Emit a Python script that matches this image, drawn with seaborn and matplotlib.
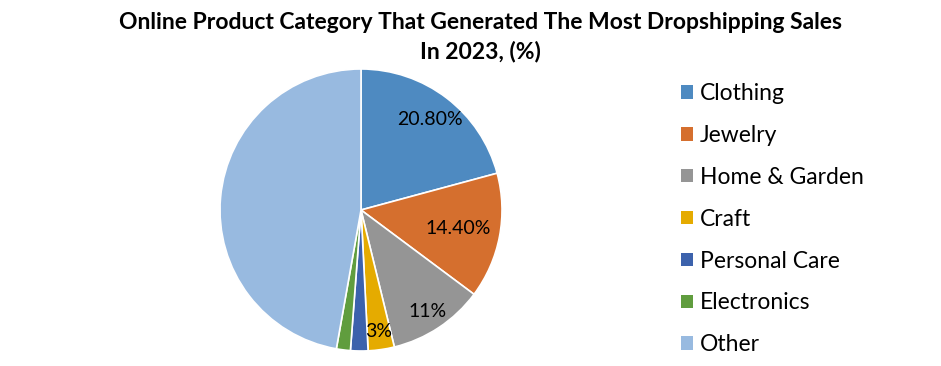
import numpy as np
import matplotlib
matplotlib.use("Agg")
import matplotlib.pyplot as plt
import seaborn as sns
from matplotlib.patches import Patch

# --- Data ---
categories = ['Clothing', 'Jewelry', 'Home & Garden', 'Craft', 'Personal Care', 'Electronics', 'Other']
shares = [20.8, 14.4, 11.0, 3.0, 2.0, 1.6, 47.2]
labels = ['20.80%', '14.40%', '11%', '3%', '', '', '']
colors = ['#4E8AC1', '#D56F2E', '#959595', '#E5AB00', '#3C62AC', '#609D3E', '#98BAE0']
label_dist = [0.81, 0.70, 0.86, 0.87, 0, 0, 0]

sns.set_theme(style="white")
plt.rcParams['font.family'] = ['Lato', 'DejaVu Sans']

fig = plt.figure(figsize=(9.41, 3.66), dpi=100)
ax = fig.add_axes([0.2338, 0.041, 0.2997, 0.7705])

wedges, _ = ax.pie(shares, colors=colors, startangle=90, counterclock=False,
                   wedgeprops=dict(edgecolor='white', linewidth=1.2))
ax.set_xlim(-1, 1)
ax.set_ylim(-1, 1)
ax.set_aspect('equal')

# percentage labels inside the slices
for w, lab, d in zip(wedges, labels, label_dist):
    if not lab:
        continue
    ang = np.deg2rad((w.theta1 + w.theta2) / 2)
    ax.text(d * np.cos(ang), d * np.sin(ang), lab, ha='center', va='center',
            fontsize=14, color='black')

fig.suptitle('Online Product Category That Generated The Most Dropshipping Sales\nIn 2023, (%)',
             x=0.511, y=0.967, fontsize=16.5, fontweight='bold', color='black', linespacing=1.45)

handles = [Patch(facecolor=c, edgecolor='none') for c in colors]
fig.legend(handles, categories, loc='upper left', bbox_to_anchor=(0.714, 0.798),
           frameon=False, fontsize=16.5, handlelength=0.52, handleheight=0.52,
           handletextpad=0.3, labelspacing=0.91, borderaxespad=0, labelcolor='black')

fig.savefig('out.png', dpi=100)
